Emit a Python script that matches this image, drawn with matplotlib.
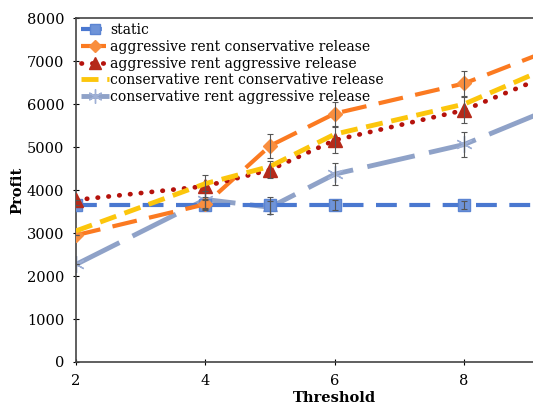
import matplotlib
matplotlib.use('Agg')
import matplotlib.pyplot as plt

plt.rcParams['font.family'] = 'DejaVu Serif'

threshold = [2, 4, 5, 6, 8, 10]

static = [3650, 3650, 3650, 3650, 3650, 3650]
static_err = [0, 120, 200, 120, 100, 0]

arcr = [2950, 3670, 5030, 5780, 6480, 7650]
arcr_err = [0, 120, 280, 280, 300, 0]

arar = [3770, 4090, 4470, 5160, 5860, 7100]
arar_err = [0, 250, 200, 300, 300, 0]

crcr = [3050, 4150, 4550, 5300, 6000, 7300]

crar = [2270, 3780, 3600, 4370, 5060, 6300]
crar_err = [0, 200, 150, 250, 300, 0]

fig = plt.figure(figsize=(5.33, 4.12), dpi=100)
ax = fig.add_axes([0.1426, 0.1214, 0.971, 0.8346])

# error bars drawn on their own so the legend keeps plain line handles
eb = dict(fmt='none', ecolor='#555555', elinewidth=0.8, capsize=2.5, capthick=0.8)
ax.errorbar(threshold, static, yerr=static_err, zorder=7, **eb)
ax.errorbar(threshold, arcr, yerr=arcr_err, zorder=7, **eb)
ax.errorbar(threshold, arar, yerr=arar_err, zorder=7, **eb)
ax.errorbar(threshold, crar, yerr=crar_err, zorder=7, **eb)

l1, = ax.plot(threshold, static, label='static', color='#4a78d0',
              dashes=(5, 3), lw=3, marker='s', ms=8.5, mfc='#6e93d8', mec='#5b84d2', zorder=3)
l2, = ax.plot(threshold, arcr, label='aggressive rent conservative release',
              color='#fb7a21', dashes=(6, 3), lw=3, marker='D', ms=7.5, mfc='#f98e3e',
              mec='#f98e3e', zorder=4)
l3, = ax.plot(threshold, arar, label='aggressive rent aggressive release',
              color='#b5120c', linestyle=(0, (0.1, 2.2)), dash_capstyle='round', lw=3.4,
              marker='^', ms=9.5, mfc='#b52a1a', mec='#b52a1a', zorder=5)
l4, = ax.plot(threshold, crcr, label='conservative rent conservative release',
              color='#fcc60c', dashes=(3.5, 1.8), lw=3.5, zorder=6)
l5, = ax.plot(threshold, crar, label='conservative rent aggressive release',
              color='#8fa2c8', dashes=(10, 3), lw=3.5, marker=(6, 2, 0), ms=12,
              mec='#9fb0d6', mew=1, zorder=2)

ax.set_xlim(2, 10)
ax.set_ylim(0, 8000)
ax.set_xticks([2, 4, 6, 8])
ax.set_yticks(range(0, 8001, 1000))
ax.tick_params(direction='inout', length=5, width=0.8, labelsize=10.5, pad=6)
for s in ax.spines.values():
    s.set_color('#444444')
    s.set_linewidth(1.2)

ax.set_xlabel('Threshold', fontweight='bold', fontsize=10.5, labelpad=2)
ax.set_ylabel('Profit', fontweight='bold', fontsize=10.5, labelpad=2)

ax.legend(handles=[l1, l2, l3, l4, l5], loc='upper left', frameon=False, fontsize=10,
          handlelength=2.0, handletextpad=0.1, labelspacing=0.2, markerscale=0.85,
          borderaxespad=0.2, borderpad=0.15)

fig.savefig('out.png', dpi=100)
